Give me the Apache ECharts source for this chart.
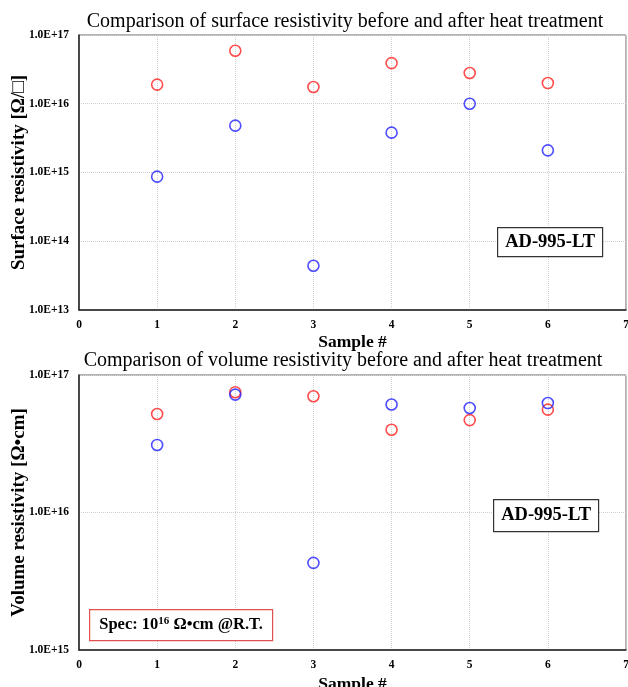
<!DOCTYPE html>
<html><head><meta charset="utf-8">
<script src="https://cdn.jsdelivr.net/npm/echarts@6/dist/echarts.min.js"></script>
<style>html,body{margin:0;padding:0;background:#fff}#c{width:628px;height:687px}</style>
</head><body><div id="c"></div>
<script>
var samples = [1, 2, 3, 4, 5, 6];
var surfaceAfter = [1.9e16, 5.9e16, 1.75e16, 3.9e16, 2.8e16, 2.0e16];   // red
var surfaceBefore = [8.7e14, 4.8e15, 4.4e13, 3.8e15, 1.0e16, 2.1e15];  // blue
var volumeAfter = [5.2e16, 7.5e16, 7.0e16, 4.0e16, 4.7e16, 5.6e16];    // red
var volumeBefore = [3.1e16, 7.2e16, 4.3e15, 6.1e16, 5.75e16, 6.25e16]; // blue
var xTicks = [0, 1, 2, 3, 4, 5, 6, 7];

var serif = '"Liberation Serif","DejaVu Serif",serif';
function pairs(xs, ys){ return xs.map(function(x,i){ return [x, ys[i]]; }); }
function sciLabel(v){ return v.toExponential(1).toUpperCase(); }

function xAxis(gi, gap){
  return {
    type:'value', gridIndex:gi, min:xTicks[0], max:xTicks[xTicks.length-1], interval:1,
    name:'Sample #', nameLocation:'middle', nameGap:gap,
    nameTextStyle:{fontFamily:serif, fontWeight:'bold', fontSize:17.5, color:'#000'},
    axisLine:{onZero:false, lineStyle:{color:'#222', width:1.5}},
    axisTick:{show:false},
    axisLabel:{fontFamily:serif, fontWeight:'bold', fontSize:11.5, color:'#000', margin:9},
    splitLine:{show:true, lineStyle:{color:'#d0d0d0', type:'dotted', width:1}}
  };
}
function yAxis(gi, min, name){
  return {
    type:'log', logBase:10, gridIndex:gi, min:min, max:1e17,
    name:name, nameLocation:'middle', nameGap:50, nameRotate:90, nameMoveOverlap:false,
    nameTextStyle:{fontFamily:serif, fontWeight:'bold', fontSize:19, color:'#000'},
    axisLine:{lineStyle:{color:'#222', width:1.5}},
    axisTick:{show:false},
    axisLabel:{fontFamily:serif, fontWeight:'bold', fontSize:11.5, color:'#000', margin:10, formatter:sciLabel},
    splitLine:{show:true, lineStyle:{color:'#d0d0d0', type:'dotted', width:1}},
    minorTick:{show:false}
  };
}
function scatter(xi, data, color){
  return {
    type:'scatter', xAxisIndex:xi, yAxisIndex:xi, data:data, symbol:'circle', symbolSize:11,
    itemStyle:{color:'rgba(0,0,0,0)', borderColor:color, borderWidth:1.6}
  };
}
function labelBox(x, y, w, h, text, borderColor){
  return {
    type:'group', left:x, top:y, z:100,
    children:[
      {type:'rect', z:100, shape:{x:0, y:0, width:w, height:h}, style:{fill:'#fff', stroke:borderColor, lineWidth:1.2}},
      {type:'text', z:101, x:w/2, y:h/2, style:{text:text, fontFamily:serif, fontWeight:'bold', fontSize:18.5, fill:'#000', align:'center', verticalAlign:'middle'}}
    ]
  };
}

var chart = echarts.init(document.getElementById('c'));
chart.setOption({
  animation:false,
  backgroundColor:'#fff',
  title:[
    {text:'Comparison of surface resistivity before and after heat treatment', left:340, top:7, textAlign:'center',
     textStyle:{fontFamily:serif, fontWeight:'normal', fontSize:20, color:'#000'}},
    {text:'Comparison of volume resistivity before and after heat treatment', left:338, top:346, textAlign:'center',
     textStyle:{fontFamily:serif, fontWeight:'normal', fontSize:20, color:'#000'}}
  ],
  grid:[
    {left:79, top:35, width:547, height:275, show:true, borderColor:'#666', borderWidth:1, backgroundColor:'#fff', containLabel:false, outerBoundsMode:'none'},
    {left:79, top:375, width:547, height:275, show:true, borderColor:'#666', borderWidth:1, backgroundColor:'#fff', containLabel:false, outerBoundsMode:'none'}
  ],
  xAxis:[xAxis(0, 23), xAxis(1, 25)],
  yAxis:[yAxis(0, 1e13, 'Surface resistivity [Ω/□]'), yAxis(1, 1e15, 'Volume resistivity [Ω•cm]')],
  series:[
    scatter(0, pairs(samples, surfaceAfter), '#ff2020'),
    scatter(0, pairs(samples, surfaceBefore), '#2020ff'),
    scatter(1, pairs(samples, volumeAfter), '#ff2020'),
    scatter(1, pairs(samples, volumeBefore), '#2020ff')
  ],
  graphic:[
    labelBox(497, 227, 105, 29, 'AD-995-LT', '#333'),
    labelBox(493, 499, 105, 32, 'AD-995-LT', '#333'),
    {
      type:'group', left:89, top:609, z:100,
      children:[
        {type:'rect', z:100, shape:{x:0, y:0, width:183, height:31}, style:{fill:'#fff', stroke:'#e05050', lineWidth:1.2}},
        {type:'text', z:101, x:91.5, y:15.5, style:{
          text:'{n|Spec: 10}{s|16}{n| Ω•cm @R.T.}', align:'center', verticalAlign:'middle',
          rich:{
            n:{fontFamily:serif, fontWeight:'bold', fontSize:16.5, fill:'#000', color:'#000'},
            s:{fontFamily:serif, fontWeight:'bold', fontSize:11, fill:'#000', color:'#000', verticalAlign:'top', padding:[0,0,7,0]}
          }
        }}
      ]
    }
  ]
});
</script>
</body></html>
